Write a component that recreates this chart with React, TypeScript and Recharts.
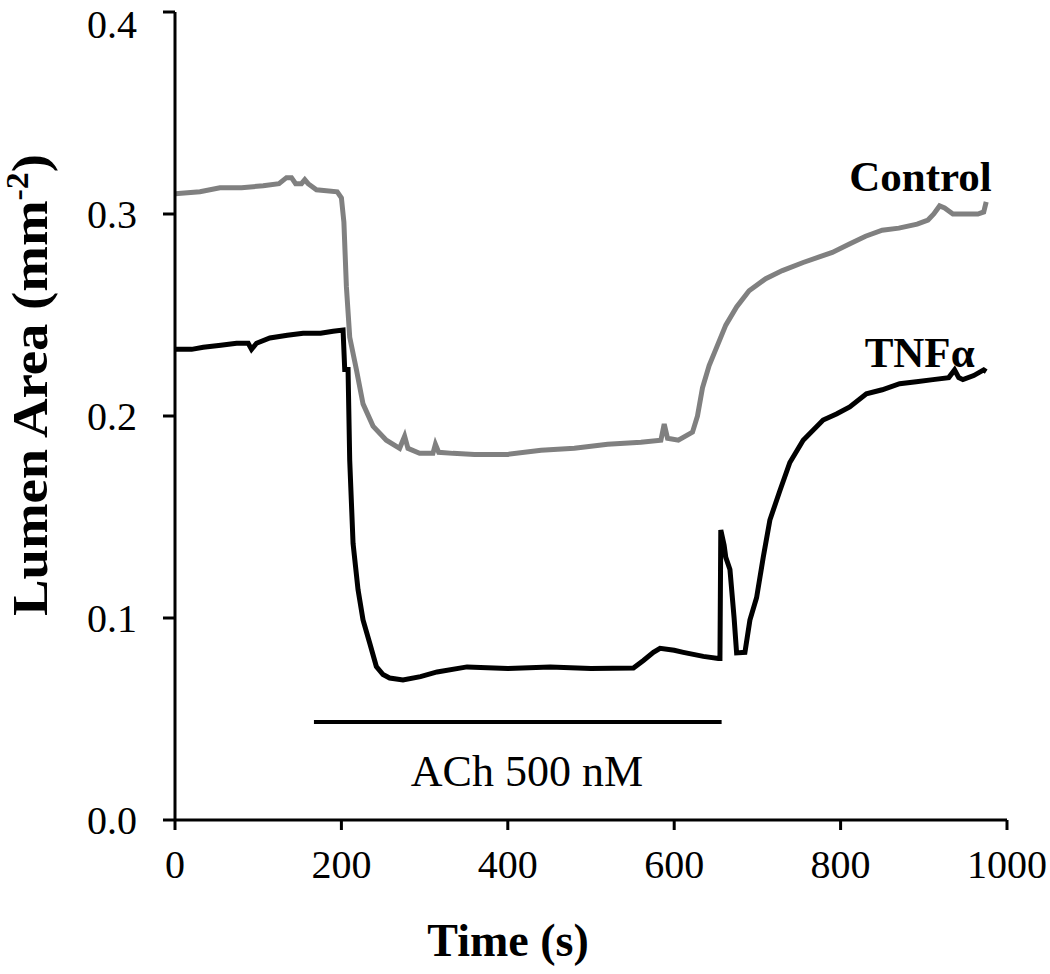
import React from "react";
import {
  LineChart,
  Line,
  XAxis,
  YAxis,
  ReferenceLine,
  ReferenceDot,
  Label,
} from "recharts";

// time (s) and lumen area (mm^-2)
const controlTime = [
  0, 30, 54, 80, 106, 125, 134, 140, 145, 152, 156, 160, 170, 195, 200, 203,
  206, 210, 218, 226, 238, 254, 270, 276, 280, 294, 310, 313, 317, 334, 360,
  400, 440, 480, 520, 560, 584, 588, 592, 605, 622, 628, 634, 642, 650, 662,
  675, 690, 710, 730, 755, 790, 810, 830, 850, 870, 892, 905, 912, 919, 925,
  935, 950, 965, 972, 975,
];
const controlArea = [
  0.31, 0.311, 0.313, 0.313, 0.314, 0.315, 0.318, 0.318, 0.315, 0.315, 0.317,
  0.315, 0.312, 0.311, 0.308, 0.296, 0.264, 0.239, 0.223, 0.206, 0.195, 0.188,
  0.184, 0.19, 0.184, 0.1815, 0.1815, 0.186, 0.182, 0.1815, 0.181, 0.181,
  0.183, 0.184, 0.186, 0.187, 0.188, 0.196, 0.189, 0.188, 0.192, 0.2, 0.214,
  0.225, 0.233, 0.245, 0.254, 0.262, 0.268, 0.272, 0.276, 0.281, 0.285, 0.289,
  0.292, 0.293, 0.295, 0.297, 0.3, 0.304, 0.303, 0.3, 0.3, 0.3, 0.301, 0.306,
];

const tnfTime = [
  0, 20, 34, 55, 74, 88, 92, 98, 114, 135, 154, 175, 190, 202, 204, 208, 210,
  214, 220, 226, 234, 242, 250, 258, 274, 295, 315, 351, 400, 451, 500, 551,
  563, 575, 583, 600, 611, 635, 653, 655, 656, 660, 662, 667, 672, 675, 685,
  691, 699, 707, 715, 727, 739, 755, 779, 795, 811, 831, 850, 871, 891, 911,
  930, 937, 942, 947, 960, 972, 975,
];
const tnfArea = [
  0.233, 0.233, 0.234, 0.235, 0.236, 0.236, 0.233, 0.236, 0.2386, 0.24, 0.241,
  0.241, 0.242, 0.2426, 0.223, 0.223, 0.178, 0.137, 0.114, 0.099, 0.0876,
  0.076, 0.072, 0.0703, 0.0693, 0.071, 0.0733, 0.0758, 0.075, 0.0758, 0.075,
  0.0752, 0.079, 0.083, 0.085, 0.084, 0.083, 0.081, 0.08, 0.08, 0.1436, 0.136,
  0.13, 0.124, 0.1, 0.0827, 0.083, 0.099, 0.11, 0.13, 0.1485, 0.163, 0.177,
  0.188, 0.198, 0.201, 0.2045, 0.211, 0.213, 0.216, 0.217, 0.218, 0.219,
  0.2228, 0.219, 0.218, 0.22, 0.2228, 0.222,
];

const xTicks = [0, 200, 400, 600, 800, 1000];
const yTicks = [0, 0.1, 0.2, 0.3, 0.4];

// ACh application period
const achStart = 167;
const achEnd = 657;
const achLevel = 0.0485;

const controlData = controlTime.map((t, i) => ({ t, v: controlArea[i] }));
const tnfData = tnfTime.map((t, i) => ({ t, v: tnfArea[i] }));

const serif = "'Times New Roman', 'Liberation Serif', serif";

const YTitle = () => (
  <text
    x={0}
    y={0}
    transform="translate(47,385) rotate(-90)"
    textAnchor="middle"
    fontFamily={serif}
    fontWeight="bold"
    fontSize={50}
    fill="#000"
    textLength={462}
    lengthAdjust="spacingAndGlyphs"
  >
    Lumen Area (mm
    <tspan fontSize={31} dy={-19}>
      -2
    </tspan>
    <tspan dy={19}>)</tspan>
  </text>
);

const XTitle = () => (
  <text
    x={508}
    y={956}
    textAnchor="middle"
    fontFamily={serif}
    fontWeight="bold"
    fontSize={46}
    fill="#000"
  >
    Time (s)
  </text>
);

export default function App() {
  return (
    <div style={{ position: "absolute", left: 0, top: 0, background: "#fff" }}>
      <LineChart
        width={1050}
        height={974}
        margin={{ top: 12, right: 43, bottom: 0, left: 0 }}
      >
        <XAxis
          type="number"
          dataKey="t"
          domain={[0, 1000]}
          ticks={xTicks}
          height={154}
          stroke="#000"
          strokeWidth={3}
          tickSize={10}
          tickMargin={20}
          tick={{ fill: "#000", fontSize: 40, fontFamily: serif }}
          allowDataOverflow
        >
          <Label content={<XTitle />} />
        </XAxis>
        <YAxis
          type="number"
          dataKey="v"
          domain={[0, 0.4]}
          ticks={yTicks}
          width={175}
          stroke="#000"
          strokeWidth={3}
          tickSize={12}
          tickMargin={26}
          tickFormatter={(v: number) => v.toFixed(1)}
          tick={{ fill: "#000", fontSize: 40, fontFamily: serif }}
        >
          <Label content={<YTitle />} />
        </YAxis>
        <Line
          data={controlData}
          dataKey="v"
          type="linear"
          stroke="#808080"
          strokeWidth={5}
          dot={false}
          isAnimationActive={false}
        />
        <Line
          data={tnfData}
          dataKey="v"
          type="linear"
          stroke="#000"
          strokeWidth={5}
          dot={false}
          isAnimationActive={false}
        />
        <ReferenceLine
          segment={[
            { x: achStart, y: achLevel },
            { x: achEnd, y: achLevel },
          ]}
          stroke="#000"
          strokeWidth={4}
        />
        <ReferenceDot
          x={423}
          y={0.0248}
          r={0}
          fill="none"
          stroke="none"
          label={{
            value: "ACh 500 nM",
            position: "center",
            fill: "#000",
            fontSize: 44,
            fontFamily: serif,
          }}
        />
        <ReferenceDot
          x={896}
          y={0.3188}
          r={0}
          fill="none"
          stroke="none"
          label={{
            value: "Control",
            position: "center",
            fill: "#000",
            fontSize: 43,
            fontWeight: "bold",
            fontFamily: serif,
          }}
        />
        <ReferenceDot
          x={895}
          y={0.2317}
          r={0}
          fill="none"
          stroke="none"
          label={{
            value: "TNFα",
            position: "center",
            fill: "#000",
            fontSize: 43,
            fontWeight: "bold",
            fontFamily: serif,
          }}
        />
      </LineChart>
    </div>
  );
}
